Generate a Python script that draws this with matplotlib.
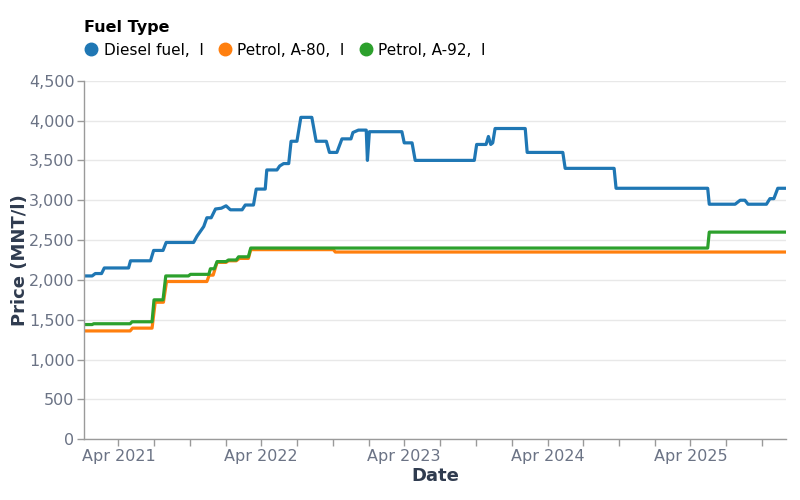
import pandas as pd
import matplotlib.pyplot as plt
import matplotlib.dates as mdates
from matplotlib.lines import Line2D
from matplotlib.ticker import FuncFormatter, MultipleLocator

# Diesel fuel, MNT per litre
diesel_dates = [
    '2021-01-04', '2021-01-24', '2021-02-01', '2021-02-17', '2021-02-24',
    '2021-04-27', '2021-05-02', '2021-06-22', '2021-06-30', '2021-07-24',
    '2021-08-01', '2021-10-10', '2021-10-19', '2021-11-05', '2021-11-13',
    '2021-11-24', '2021-12-05', '2021-12-20', '2022-01-01', '2022-01-12',
    '2022-02-11', '2022-02-19', '2022-03-12', '2022-03-19', '2022-04-11',
    '2022-04-15', '2022-05-11', '2022-05-18', '2022-05-28', '2022-06-10',
    '2022-06-16', '2022-07-01', '2022-07-11', '2022-08-08', '2022-08-19',
    '2022-09-14', '2022-09-22', '2022-10-11', '2022-10-24', '2022-11-16',
    '2022-11-21', '2022-12-05', '2022-12-25', '2022-12-28', '2023-01-02',
    '2023-03-26', '2023-04-01', '2023-04-21', '2023-04-29', '2023-09-27',
    '2023-10-03', '2023-10-27', '2023-11-02', '2023-11-08', '2023-11-13',
    '2023-11-19', '2024-02-04', '2024-02-09', '2024-05-10', '2024-05-16',
    '2024-09-18', '2024-09-23', '2025-05-15', '2025-05-19', '2025-07-24',
    '2025-08-06', '2025-08-18', '2025-08-26', '2025-10-12', '2025-10-21',
    '2025-10-31', '2025-11-10', '2025-12-01',
]
diesel_prices = [
    2050, 2050, 2080, 2080, 2150,
    2150, 2240, 2240, 2370, 2370,
    2470, 2470, 2550, 2670, 2780,
    2780, 2890, 2900, 2930, 2880,
    2880, 2940, 2940, 3140, 3140,
    3380, 3380, 3430, 3460, 3460,
    3740, 3740, 4040, 4040, 3740,
    3740, 3600, 3600, 3770, 3770,
    3850, 3880, 3880, 3500, 3860,
    3860, 3720, 3720, 3500, 3500,
    3700, 3700, 3800, 3700, 3720,
    3900, 3900, 3600, 3600, 3400,
    3400, 3150, 3150, 2950, 2950,
    3000, 3000, 2950, 2950, 3020,
    3020, 3150, 3150,
]

# Petrol A-80
a80_dates = [
    '2021-01-04', '2021-05-01', '2021-05-07', '2021-06-26', '2021-07-04',
    '2021-07-25', '2021-08-02', '2021-11-13', '2021-11-19', '2021-11-29',
    '2021-12-09', '2022-01-01', '2022-01-07', '2022-01-27', '2022-02-04',
    '2022-02-27', '2022-03-05', '2022-10-02', '2022-10-07', '2025-12-01',
]
a80_prices = [
    1360, 1360, 1395, 1395, 1720,
    1720, 1980, 1980, 2060, 2060,
    2220, 2220, 2240, 2240, 2270,
    2270, 2380, 2380, 2350, 2350,
]

# Petrol A-92
a92_dates = [
    '2021-01-04', '2021-01-24', '2021-01-28', '2021-05-01', '2021-05-06',
    '2021-06-26', '2021-07-01', '2021-07-24', '2021-07-31', '2021-09-27',
    '2021-10-02', '2021-11-18', '2021-11-22', '2021-12-02', '2021-12-09',
    '2022-01-01', '2022-01-07', '2022-01-27', '2022-02-02', '2022-02-27',
    '2022-03-05', '2025-05-15', '2025-05-19', '2025-12-01',
]
a92_prices = [
    1440, 1440, 1450, 1450, 1475,
    1475, 1750, 1750, 2050, 2050,
    2070, 2070, 2140, 2140, 2230,
    2230, 2250, 2250, 2290, 2290,
    2400, 2400, 2600, 2600,
]

labels = ['Diesel fuel,  l', 'Petrol, A-80,  l', 'Petrol, A-92,  l']
colors = ['#1f77b4', '#ff7f0e', '#2ca02c']

tick_color = '#6b7385'
title_color = '#2f3b4f'

fig = plt.figure(figsize=(8, 5), dpi=100)
ax = fig.add_axes([0.1054, 0.1214, 0.8771, 0.7172])

series = [(diesel_dates, diesel_prices), (a80_dates, a80_prices), (a92_dates, a92_prices)]
for (d, v), c in zip(series, colors):
    ax.plot(pd.to_datetime(d), v, color=c, lw=2.3, solid_joinstyle='round')

ax.set_xlim(pd.Timestamp('2021-01-04'), pd.Timestamp('2025-12-01'))
ax.set_ylim(0, 4500)

# region AXES
ax.yaxis.set_major_locator(MultipleLocator(500))
ax.yaxis.set_major_formatter(FuncFormatter(lambda v, p: f'{int(v):,}'))
ax.xaxis.set_major_locator(mdates.MonthLocator(bymonth=[1, 4, 7, 10]))
ax.xaxis.set_major_formatter(FuncFormatter(
    lambda v, p: mdates.num2date(v).strftime('%b %Y') if mdates.num2date(v).month == 4 else ''))

ax.grid(axis='y', color='#e8e8e8', lw=1)
ax.set_axisbelow(True)
for s in ['top', 'right']:
    ax.spines[s].set_visible(False)
for s in ['left', 'bottom']:
    ax.spines[s].set_color('#9a9a9a')
    ax.spines[s].set_linewidth(1)
ax.tick_params(colors='#9a9a9a', labelcolor=tick_color, labelsize=11.5, length=5, width=1, pad=2)

ax.set_xlabel('Date', fontsize=13, fontweight='bold', color=title_color, labelpad=2)
ax.set_ylabel('Price (MNT/l)', fontsize=13, fontweight='bold', color=title_color, labelpad=0)
# endregion

# legend
handles = [Line2D([], [], marker='o', ls='none', color=c, markersize=9) for c in colors]
leg = fig.legend(handles, labels, title='Fuel Type', loc='upper left',
                 bbox_to_anchor=(0.097, 0.972), ncol=3, frameon=False,
                 fontsize=11, title_fontproperties={'weight': 'bold', 'size': 11.5},
                 handletextpad=0.3, columnspacing=0.9, handlelength=1.0, borderaxespad=0)
leg._legend_box.align = 'left'

plt.savefig('out.png', dpi=100)
